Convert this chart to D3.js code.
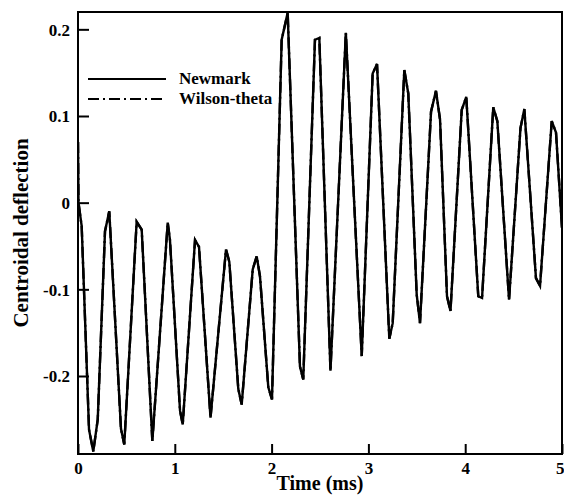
<!DOCTYPE html>
<html>
<head>
<meta charset="utf-8">
<script src="https://cdn.jsdelivr.net/npm/d3@7"></script>
<style>
  body { margin: 0; background: #fff; }
  svg text { font-family: "Liberation Serif", "Times New Roman", serif; font-weight: bold; fill: #000; }
</style>
</head>
<body>
<div id="chart"></div>
<script>
// Time samples (ms) at the vertices of the plotted curve
const times = [
  0, 0.005, 0.038, 0.114, 0.158, 0.204, 0.279, 0.323, 0.444, 0.478,
  0.606, 0.658, 0.768, 0.927, 0.950, 1.054, 1.082, 1.209, 1.250, 1.369,
  1.529, 1.563, 1.656, 1.691, 1.805, 1.846, 1.880, 1.966, 2.004, 2.104,
  2.166, 2.293, 2.327, 2.448, 2.493, 2.608, 2.767, 2.931, 3.044, 3.089,
  3.216, 3.251, 3.371, 3.412, 3.499, 3.533, 3.647, 3.698, 3.740, 3.812,
  3.848, 3.964, 4.011, 4.135, 4.174, 4.290, 4.332, 4.453, 4.571, 4.611,
  4.731, 4.773, 4.894, 4.938, 5.0
];

// Centroidal deflection, Newmark scheme
const newmarkValues = [
  0.070, 0.000, -0.027, -0.262, -0.287, -0.250, -0.033, -0.010, -0.261, -0.279,
  -0.022, -0.031, -0.275, -0.023, -0.043, -0.240, -0.256, -0.043, -0.051, -0.248,
  -0.054, -0.068, -0.215, -0.233, -0.077, -0.062, -0.085, -0.213, -0.227, 0.188,
  0.219, -0.189, -0.204, 0.188, 0.190, -0.194, 0.196, -0.177, 0.149, 0.160,
  -0.157, -0.139, 0.153, 0.126, -0.106, -0.139, 0.105, 0.129, 0.096, -0.108,
  -0.125, 0.107, 0.122, -0.108, -0.110, 0.110, 0.094, -0.112, 0.086, 0.108,
  -0.087, -0.096, 0.094, 0.081, -0.029
];

// Wilson-theta lies right on top of the Newmark curve in the figure
const wilsonValues = newmarkValues;

const xTicks = [0, 1, 2, 3, 4, 5];
const yTicks = [-0.2, -0.1, 0, 0.1, 0.2];
const yTickLabels = ["-0.2", "-0.1", "0", "0.1", "0.2"];
const seriesNames = ["Newmark", "Wilson-theta"];

const width = 564, height = 495;
const margin = { top: 12, right: 2, bottom: 41, left: 78 };

const svg = d3.select("#chart").append("svg")
  .attr("width", width)
  .attr("height", height);

const x = d3.scaleLinear().domain([0, 5]).range([margin.left, width - margin.right]);
const y = d3.scaleLinear().domain([-0.29, 0.22]).range([height - margin.bottom, margin.top]);

svg.append("clipPath").attr("id", "plot-clip")
  .append("rect")
  .attr("x", margin.left).attr("y", margin.top)
  .attr("width", width - margin.left - margin.right)
  .attr("height", height - margin.top - margin.bottom);

const line = d3.line()
  .x((d, i) => x(times[i]))
  .y((d) => y(d));

const plot = svg.append("g").attr("clip-path", "url(#plot-clip)");

plot.append("path")
  .datum(newmarkValues)
  .attr("d", line)
  .attr("fill", "none")
  .attr("stroke", "#000")
  .attr("stroke-width", 2.4);

plot.append("path")
  .datum(wilsonValues)
  .attr("d", line)
  .attr("fill", "none")
  .attr("stroke", "#000")
  .attr("stroke-width", 2.4)
  .attr("stroke-dasharray", "11,4,2,4");

// axes: ticks point inward, labels placed by hand afterwards
const xAxis = svg.append("g")
  .attr("transform", `translate(0,${height - margin.bottom})`)
  .call(d3.axisBottom(x).tickValues(xTicks).tickSize(-10).tickFormat(""));

const yAxis = svg.append("g")
  .attr("transform", `translate(${margin.left},0)`)
  .call(d3.axisLeft(y).tickValues(yTicks).tickSize(-11).tickFormat(""));

[xAxis, yAxis].forEach((g) => {
  g.select(".domain").remove();
  g.selectAll(".tick line").attr("stroke", "#000").attr("stroke-width", 2);
});

xAxis.selectAll(".tick").append("text")
  .attr("y", 20)
  .attr("x", (d) => (d === 5 ? 2 : 0))
  .attr("text-anchor", (d) => (d === 5 ? "end" : "middle"))
  .style("font-size", "17px")
  .text((d) => d);

yAxis.selectAll(".tick").append("text")
  .attr("x", -8)
  .attr("dy", "0.35em")
  .attr("text-anchor", "end")
  .style("font-size", "17px")
  .text((d, i) => yTickLabels[i]);

// frame
svg.append("rect")
  .attr("x", margin.left)
  .attr("y", margin.top)
  .attr("width", width - margin.left - margin.right)
  .attr("height", height - margin.top - margin.bottom)
  .attr("fill", "none")
  .attr("stroke", "#000")
  .attr("stroke-width", 2);

// axis titles
svg.append("text")
  .attr("x", (margin.left + width - margin.right) / 2)
  .attr("y", 490)
  .attr("text-anchor", "middle")
  .style("font-size", "20px")
  .text("Time (ms)");

svg.append("text")
  .attr("transform", `translate(28,${(margin.top + height - margin.bottom) / 2}) rotate(-90)`)
  .attr("text-anchor", "middle")
  .style("font-size", "21px")
  .text("Centroidal deflection");

// legend
const legend = svg.append("g");
const dashes = [null, "11,4,2,4"];
seriesNames.forEach((name, i) => {
  const ly = 79 + i * 20;
  legend.append("line")
    .attr("x1", 88).attr("x2", 166)
    .attr("y1", ly).attr("y2", ly)
    .attr("stroke", "#000")
    .attr("stroke-width", 2)
    .attr("stroke-dasharray", dashes[i]);
  legend.append("text")
    .attr("x", 179)
    .attr("y", ly + 5)
    .style("font-size", "17px")
    .text(name);
});
</script>
</body>
</html>
